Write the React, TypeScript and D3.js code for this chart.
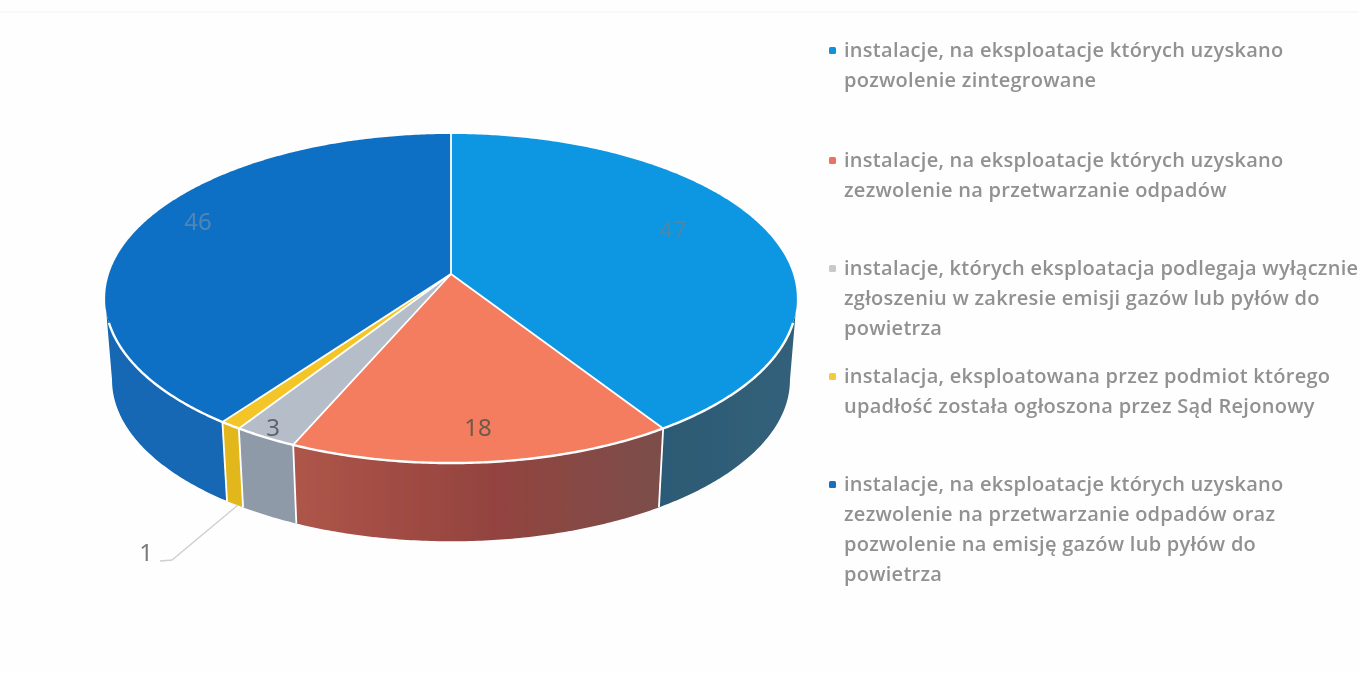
import React from "react";
import * as d3 from "d3";

const categories = [
  "pozwolenie zintegrowane",
  "zezwolenie na przetwarzanie odpadów",
  "wyłącznie zgłoszenie",
  "upadłość",
  "zezwolenie oraz pozwolenie na emisję",
];
const values = [47, 18, 3, 1, 46];
const topColors = ["#0e97e2", "#f47b5e", "#b5bdc9", "#f3c526", "#0f6fc4"];
const legendColors = ["#1193dc", "#ee6f63", "#c9c9c9", "#f4cc3a", "#1470bd"];
const legendLines = [
  ["instalacje, na eksploatacje których uzyskano", "pozwolenie zintegrowane"],
  ["instalacje, na eksploatacje których uzyskano", "zezwolenie na przetwarzanie odpadów"],
  ["instalacje, których eksploatacja podlegaja wyłącznie", "zgłoszeniu w zakresie emisji gazów lub pyłów do", "powietrza"],
  ["instalacja, eksploatowana przez podmiot którego", "upadłość została ogłoszona przez Sąd Rejonowy"],
  ["instalacje, na eksploatacje których uzyskano", "zezwolenie na przetwarzanie odpadów oraz", "pozwolenie na emisję gazów lub pyłów do", "powietrza"],
];
const legendFirstBaselines = [57, 167, 275, 383, 491];
const labelPos = [
  { x: 673, y: 238, c: "#4a87ad" },
  { x: 478, y: 436, c: "#6e5a4c" },
  { x: 273, y: 436, c: "#5f636b" },
  { x: 146, y: 561, c: "#7a7a7a" },
  { x: 198, y: 230, c: "#4f86b4" },
];

// perspective projection of the pie's unit disc
const CX = 451, CY = 274, A = 160.9, B = 342, K = 0.149, DEPTH = 82, BOTTOM_SCALE = 0.98;
const project = (theta: number, r = 1, bottom = false) => {
  const u = r * Math.sin(theta);
  const v = -r * Math.cos(theta);
  const d = 1 - K * v;
  const s = bottom ? BOTTOM_SCALE : 1;
  return [CX + (s * B * u) / d, CY + (bottom ? DEPTH : 0) + (s * A * v) / d] as [number, number];
};
const line = d3.line();
const samples = (a0: number, a1: number, bottom = false) => {
  const n = Math.max(2, Math.ceil(Math.abs(a1 - a0) / 0.01));
  return d3.range(n + 1).map((i) => project(a0 + ((a1 - a0) * i) / n, 1, bottom));
};

export default function App() {
  const arcs = d3.pie<number>().sort(null).startAngle(0).endAngle(2 * Math.PI)(values);
  // Side wall runs through the front of the rim; its white rim line starts a little lower
  const sideStart = Math.PI - Math.acos(K);
  const sideEnd = Math.PI + Math.acos(K);
  const rimStart = Math.PI - Math.acos(0.291);
  const rimEnd = Math.PI + Math.acos(0.291);
  const sideColors = ["url(#sideTeal)", "url(#sideRed)", "#8f9aa9", "#e2b71f", "#1268b4"];
  const seams = arcs.map((a) => a.startAngle).filter((t) => t > sideStart && t < sideEnd);
  return (
    <svg width={1359} height={673} style={{ position: "absolute", left: 0, top: 0, background: "#fefefe" }}>
      <defs>
        <linearGradient id="sideTeal" gradientUnits="userSpaceOnUse" x1={660} y1={0} x2={795} y2={0}>
          <stop offset="0" stopColor="#2c5a74" />
          <stop offset="1" stopColor="#33607a" />
        </linearGradient>
        <linearGradient id="sideRed" gradientUnits="userSpaceOnUse" x1={295} y1={0} x2={660} y2={0}>
          <stop offset="0" stopColor="#ae5549" />
          <stop offset="0.55" stopColor="#93433f" />
          <stop offset="1" stopColor="#7b4e4a" />
        </linearGradient>
        <filter id="soft" x="-5%" y="-5%" width="110%" height="110%">
          <feGaussianBlur stdDeviation="0.6" />
        </filter>
        <filter id="softText" x="-5%" y="-20%" width="110%" height="140%">
          <feGaussianBlur stdDeviation="0.4" />
        </filter>
      </defs>
      <line x1={0} x2={1359} y1={12} y2={12} stroke="#f3f3f3" strokeWidth={1} />
      <g filter="url(#soft)">
        {arcs.map((a, i) => {
          const s0 = Math.max(a.startAngle, sideStart);
          const s1 = Math.min(a.endAngle, sideEnd);
          if (s1 <= s0) return null;
          const pts = [...samples(s0, s1), ...samples(s1, s0, true)];
          return <path key={categories[i]} d={line(pts) + "Z"} fill={sideColors[i]} />;
        })}
        {seams.map((t, i) => (
          <path key={i} d={line([project(t), project(t, 1, true)]) as string} stroke="#fff" strokeWidth={1.8} fill="none" />
        ))}
        {arcs.map((a, i) => {
          const pts = [project(0, 0), ...samples(a.startAngle, a.endAngle)];
          return <path key={i} d={line(pts) + "Z"} fill={topColors[i]} />;
        })}
        {arcs.map((a, i) => (
          <path key={i} d={line([project(0, 0), project(a.startAngle)]) as string} stroke="#fff" strokeWidth={1.8} fill="none" />
        ))}
        <path d={line(samples(rimStart, rimEnd)) as string} stroke="#fff" strokeWidth={2.4} fill="none" />
        <polyline points="238,505 172,560 160,561" fill="none" stroke="#cfcfcf" strokeWidth={1.3} />
      </g>
      <g filter="url(#softText)">
        {values.map((v, i) => (
          <text key={i} x={labelPos[i].x} y={labelPos[i].y} textAnchor="middle" fontFamily="'Noto Sans', sans-serif" fontSize={24} fill={labelPos[i].c}>
            {v}
          </text>
        ))}
        {legendLines.map((lines, i) => (
          <g key={i}>
            <rect x={829} y={legendFirstBaselines[i] - 10} width={7} height={7} rx={1.5} fill={legendColors[i]} />
            {lines.map((t, j) => (
              <text key={j} x={844} y={legendFirstBaselines[i] + j * 30} fontFamily="'Open Sans', sans-serif" fontWeight={600} fontSize={20} letterSpacing={0.27} fill="#919191">
                {t}
              </text>
            ))}
          </g>
        ))}
      </g>
    </svg>
  );
}
